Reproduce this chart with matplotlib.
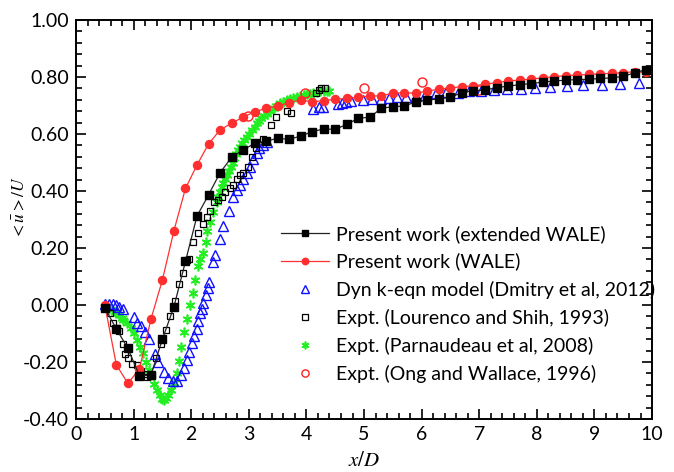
import numpy as np
import matplotlib
matplotlib.use('Agg')
import matplotlib.pyplot as plt
from matplotlib.ticker import MultipleLocator, FormatStrFormatter

plt.rcParams['font.family'] = ['Lato', 'DejaVu Sans']
plt.rcParams['mathtext.fontset'] = 'stix'

# Present work (extended WALE)
ext_x = [0.5, 0.7, 0.9, 1.1, 1.3, 1.5, 1.7, 1.9, 2.1, 2.3, 2.5, 2.7, 2.9, 3.1, 3.3, 3.5,
         3.7, 3.9, 4.1, 4.3, 4.5, 4.7, 4.9, 5.1, 5.3, 5.5, 5.7, 5.9, 6.1, 6.3, 6.5, 6.7,
         6.9, 7.1, 7.3, 7.5, 7.7, 7.9, 8.1, 8.3, 8.5, 8.7, 8.9, 9.1, 9.3, 9.5, 9.7, 9.9]
ext_y = [-0.01, -0.084, -0.152, -0.248, -0.246, -0.12, -0.006, 0.153, 0.312, 0.386, 0.464,
         0.518, 0.544, 0.567, 0.575, 0.585, 0.581, 0.593, 0.608, 0.618, 0.616, 0.634, 0.655,
         0.659, 0.690, 0.696, 0.698, 0.713, 0.719, 0.723, 0.729, 0.745, 0.752, 0.754, 0.763,
         0.768, 0.773, 0.777, 0.782, 0.786, 0.789, 0.791, 0.792, 0.795, 0.797, 0.802, 0.815,
         0.826]

# Present work (WALE)
wale_x = ext_x
wale_y = [0.00, -0.21, -0.275, -0.225, -0.05, 0.088, 0.261, 0.409, 0.491, 0.565, 0.614,
          0.638, 0.659, 0.678, 0.690, 0.698, 0.710, 0.719, 0.713, 0.717, 0.722, 0.725, 0.729,
          0.733, 0.734, 0.743, 0.745, 0.743, 0.751, 0.757, 0.762, 0.766, 0.769, 0.775, 0.780,
          0.786, 0.789, 0.793, 0.797, 0.801, 0.805, 0.807, 0.809, 0.811, 0.813, 0.815, 0.819,
          0.816]

# Dyn k-eqn model (Dmitry et al, 2012)
dyn_x = [0.50, 0.57, 0.64, 0.69, 0.75, 0.81, 1.00, 1.06, 1.12, 1.20, 1.27, 1.37, 1.43, 1.52,
         1.60, 1.69, 1.76, 1.82, 1.88, 1.92, 1.97, 2.01, 2.05, 2.10, 2.12, 2.15, 2.18, 2.21,
         2.25, 2.29, 2.31, 2.38, 2.41, 2.50, 2.56, 2.66, 2.73, 2.79, 2.85, 2.90, 2.96, 3.02,
         3.08, 3.14, 3.18, 3.25, 3.31, 4.12, 4.21, 4.28, 4.54, 4.61, 4.69, 4.77, 4.98, 5.13,
         5.29, 5.43, 5.58, 5.73, 5.90, 6.06, 6.25, 6.42, 6.64, 6.83, 7.03, 7.26, 7.49, 7.73,
         7.97, 8.23, 8.52, 8.81, 9.13, 9.44, 9.77]
dyn_y = [0.003, 0.003, 0.002, 0.0, -0.006, -0.015, -0.041, -0.062, -0.074, -0.095, -0.118,
         -0.171, -0.20, -0.235, -0.255, -0.267, -0.265, -0.246, -0.222, -0.193, -0.164, -0.134,
         -0.109, -0.083, -0.055, -0.029, -0.013, 0.008, 0.035, 0.059, 0.082, 0.152, 0.174,
         0.233, 0.277, 0.331, 0.38, 0.404, 0.421, 0.441, 0.464, 0.485, 0.511, 0.532, 0.550,
         0.561, 0.573, 0.687, 0.694, 0.694, 0.705, 0.710, 0.713, 0.716, 0.719, 0.722, 0.723,
         0.727, 0.731, 0.731, 0.733, 0.736, 0.743, 0.747, 0.745, 0.751, 0.752, 0.754, 0.757,
         0.759, 0.760, 0.764, 0.768, 0.771, 0.772, 0.775, 0.778]

# Expt. (Lourenco and Shih, 1993)
lour_x = [0.52, 0.59, 0.65, 0.71, 0.75, 0.81, 0.85, 0.91, 0.98, 1.05, 1.12, 1.20, 1.24, 1.32,
          1.39, 1.47, 1.57, 1.64, 1.71, 1.79, 1.85, 1.92, 1.97, 2.03, 2.12, 2.21, 2.27, 2.33,
          2.40, 2.47, 2.53, 2.59, 2.67, 2.73, 2.79, 2.85, 2.90, 2.99, 3.05, 3.12, 3.25, 3.38,
          3.47, 3.66, 3.74, 4.17, 4.22, 4.26, 4.33]
lour_y = [-0.01, -0.029, -0.062, -0.082, -0.09, -0.138, -0.171, -0.185, -0.206, -0.211,
          -0.232, -0.242, -0.253, -0.245, -0.186, -0.138, -0.088, -0.04, 0.015, 0.074, 0.111,
          0.158, 0.16, 0.222, 0.254, 0.284, 0.31, 0.33, 0.36, 0.37, 0.38, 0.398, 0.409, 0.42,
          0.441, 0.455, 0.464, 0.485, 0.52, 0.55, 0.582, 0.632, 0.661, 0.682, 0.673, 0.745,
          0.754, 0.760, 0.760]

# Expt. (Parnaudeau et al, 2008)
parn_x = [0.53, 0.58, 0.62, 0.67, 0.71, 0.75, 0.79, 0.82, 0.88, 0.95, 1.01, 1.06, 1.11, 1.16,
          1.21, 1.26, 1.31, 1.36, 1.41, 1.46, 1.50, 1.53, 1.57, 1.60, 1.65, 1.70, 1.75, 1.79,
          1.83, 1.88, 1.92, 1.98, 2.03, 2.07, 2.12, 2.16, 2.20, 2.25, 2.27, 2.33, 2.38, 2.44,
          2.47, 2.50, 2.53, 2.56, 2.59, 2.62, 2.65, 2.69, 2.72, 2.74, 2.78, 2.82, 2.85, 2.89,
          2.92, 2.96, 3.00, 3.05, 3.10, 3.14, 3.18, 3.22, 3.26, 3.31, 3.37, 3.43, 3.48, 3.54,
          3.60, 3.66, 3.72, 3.77, 3.83, 3.89, 3.95, 4.01, 4.06, 4.12, 4.18, 4.24, 4.30, 4.35,
          4.40]
parn_y = [-0.012, -0.013, -0.015, -0.023, -0.028, -0.035, -0.045, -0.053, -0.064, -0.082,
          -0.10, -0.123, -0.148, -0.168, -0.20, -0.228, -0.246, -0.276, -0.30, -0.316, -0.33,
          -0.335, -0.325, -0.316, -0.298, -0.274, -0.238, -0.196, -0.147, -0.094, -0.048, 0.0,
          0.043, 0.089, 0.137, 0.16, 0.184, 0.222, 0.261, 0.292, 0.327, 0.362, 0.38, 0.398,
          0.413, 0.427, 0.442, 0.456, 0.47, 0.485, 0.50, 0.515, 0.53, 0.544, 0.556, 0.567,
          0.58, 0.591, 0.60, 0.614, 0.625, 0.638, 0.647, 0.655, 0.662, 0.670, 0.68, 0.690,
          0.70, 0.708, 0.714, 0.719, 0.722, 0.725, 0.73, 0.733, 0.737, 0.740, 0.742, 0.745,
          0.748, 0.752, 0.75, 0.752, 0.75]

# Expt. (Ong and Wallace, 1996)
ong_x = [2.98, 3.98, 5.0, 6.0, 7.0]
ong_y = [0.664, 0.743, 0.760, 0.781, 0.755]

fig = plt.figure(figsize=(6.74, 4.72), dpi=100)
ax = fig.add_axes([0.1128, 0.1123, 0.8546, 0.8453])

ax.plot(ext_x, ext_y, '-s', color='#222222', lw=0.9, ms=5.2, mfc='black', mec='black',
        label='Present work (extended WALE)', zorder=5)
ax.plot(wale_x, wale_y, '-o', color='#ff3030', lw=0.9, ms=5.8, mfc='#ff2f2f', mec='#ff2f2f',
        label='Present work (WALE)', zorder=4)
ax.plot(dyn_x, dyn_y, '^', ls='none', ms=7, mfc='none', mec='#1010ff', mew=1.0,
        label='Dyn k-eqn model (Dmitry et al, 2012)', zorder=3)
ax.plot(lour_x, lour_y, 's', ls='none', ms=5, mfc='none', mec='black', mew=0.9,
        label='Expt. (Lourenco and Shih, 1993)', zorder=3)
ax.plot(parn_x, parn_y, marker=(6, 2, 0), ls='none', ms=7, mec='#22ee22', mew=1.2,
        label='Expt. (Parnaudeau et al, 2008)', zorder=2)
ax.plot(ong_x, ong_y, 'o', ls='none', ms=6.5, mfc='none', mec='#ff2020', mew=1.0,
        label='Expt. (Ong and Wallace, 1996)', zorder=3)

ax.set_xlim(0, 10)
ax.set_ylim(-0.4, 1.0)
ax.xaxis.set_major_locator(MultipleLocator(1))
ax.xaxis.set_minor_locator(MultipleLocator(0.2))
ax.yaxis.set_major_locator(MultipleLocator(0.2))
ax.yaxis.set_minor_locator(MultipleLocator(0.04))
ax.yaxis.set_major_formatter(FormatStrFormatter('%.2f'))
ax.tick_params(which='both', direction='in', top=True, right=True, labelsize=14, width=1.2)
ax.tick_params(which='major', length=7, pad=5)
ax.tick_params(which='minor', length=4)
for s in ax.spines.values():
    s.set_linewidth(1.4)

ax.set_xlabel('$x/D$', fontsize=15, labelpad=5)
ax.set_ylabel(r'${<}\bar{u}{>}/U$', fontsize=12.5, labelpad=2)
ax.yaxis.set_label_coords(-0.085, 0.53)

ax.legend(loc='upper left', bbox_to_anchor=(0.355, 0.4865), frameon=False, fontsize=14,
          handlelength=2.5, handletextpad=0.33, labelspacing=0.51, borderpad=0,
          borderaxespad=0, markerscale=0.8)

fig.savefig('out.png', dpi=100)
